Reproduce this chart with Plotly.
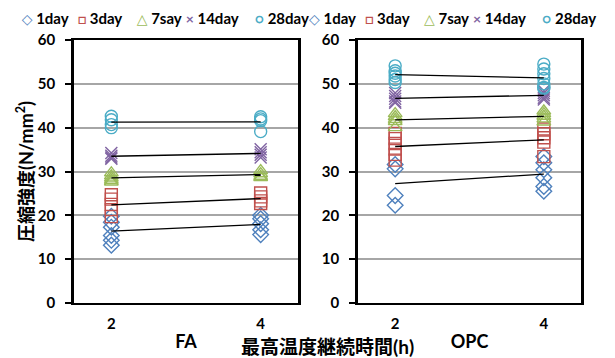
import numpy as np
import plotly.graph_objects as go

# ---------------- data ----------------
ages = ["1day", "3day", "7say", "14day", "28day"]
hours = [2, 4]

# FA: compressive strength (N/mm2) per age, at 2 h and 4 h
fa_1day_2 = [19.8, 18.4, 17.3, 15.4, 14.3, 13.2]
fa_1day_4 = [20.0, 19.2, 18.1, 16.7, 15.6]
fa_3day_2 = [24.7, 23.7, 22.5, 21.3, 19.7]
fa_3day_4 = [25.1, 24.2, 23.3, 22.7]
fa_7day_2 = [29.7, 29.0, 28.5, 28.0, 27.6]
fa_7day_4 = [30.2, 29.5, 28.9, 28.6]
fa_14day_2 = [34.2, 33.6, 33.2, 32.9]
fa_14day_4 = [35.1, 34.4, 33.8, 33.2]
fa_28day_2 = [42.6, 41.8, 40.7, 40.0]
fa_28day_4 = [42.5, 42.0, 41.6, 39.1]

# OPC
opc_1day_2 = [31.6, 30.6, 24.5, 22.3]
opc_1day_4 = [33.4, 32.0, 30.4, 28.6, 26.6, 25.5]
opc_3day_2 = [38.7, 37.5, 36.4, 35.1, 33.9, 32.6]
opc_3day_4 = [39.7, 38.6, 37.7, 36.7, 33.4]
opc_7day_2 = [43.2, 42.5, 41.9, 41.4, 40.0]
opc_7day_4 = [43.8, 43.2, 42.6, 42.0, 41.3]
opc_14day_2 = [47.9, 47.2, 46.6, 46.0, 45.7]
opc_14day_4 = [48.4, 47.9, 47.4, 46.8, 46.4]
opc_28day_2 = [54.1, 53.0, 52.4, 51.8, 51.0, 50.3]
opc_28day_4 = [54.5, 53.4, 52.3, 51.2, 50.0, 49.2, 49.0]

fa_data = [(fa_1day_2, fa_1day_4), (fa_3day_2, fa_3day_4), (fa_7day_2, fa_7day_4),
           (fa_14day_2, fa_14day_4), (fa_28day_2, fa_28day_4)]
opc_data = [(opc_1day_2, opc_1day_4), (opc_3day_2, opc_3day_4), (opc_7day_2, opc_7day_4),
            (opc_14day_2, opc_14day_4), (opc_28day_2, opc_28day_4)]

y_ticks = [0, 10, 20, 30, 40, 50, 60]

# ---------------- style ----------------
colors = ["#4F81BD", "#C0504D", "#9BBB59", "#8064A2", "#4BACC6"]
symbols = ["diamond-open", "square-open", "triangle-up-open", "x-thin-open", "circle-open"]
glyphs = ["◇", "□", "△", "×", "○"]
legend_w = [11, 14, 4, 24, 50]

FONT = "Lato, DejaVu Sans, Noto Sans CJK JP"
CJK = "Lato, Noto Sans CJK JP"

W, H, T = 615, 358, 30


def py(pix):
    return (H - pix) / (H - T)


fig = go.Figure()

for panel, data, xa, ya, lg in [("FA", fa_data, "x", "y", "legend"),
                                ("OPC", opc_data, "x2", "y2", "legend2")]:
    for i, (v2, v4) in enumerate(data):
        xs = [hours[0]] * len(v2) + [hours[1]] * len(v4)
        ys = list(v2) + list(v4)
        fig.add_trace(go.Scatter(
            x=xs, y=ys, mode="markers", xaxis=xa, yaxis=ya, showlegend=False,
            name=ages[i],
            marker=dict(symbol=symbols[i], size=12, color=colors[i],
                        line=dict(color=colors[i], width=1.4)),
        ))
    for i, (v2, v4) in enumerate(data):
        fig.add_trace(go.Scatter(
            x=hours, y=[np.mean(v2), np.mean(v4)], mode="lines", xaxis=xa, yaxis=ya,
            showlegend=False, line=dict(color="black", width=1.3), hoverinfo="skip",
        ))
    for i in range(len(ages)):
        fig.add_trace(go.Scatter(
            x=[None], y=[None], mode="markers", xaxis=xa, yaxis=ya,
            marker=dict(color="rgba(0,0,0,0)", size=1, line=dict(width=0)),
            name=f'<span style="color:{colors[i]};font-size:14px">{glyphs[i]}</span> {ages[i]}',
            legend=lg, legendwidth=legend_w[i], showlegend=True,
        ))

dom_y = [py(303), py(40)]


def xaxis_cfg(dom, anchor, title):
    return dict(domain=dom, anchor=anchor, range=[1.5, 4.5], tickvals=hours,
                ticktext=[str(h) for h in hours],
                showgrid=False, zeroline=False, showline=True, linecolor="black", linewidth=2,
                mirror=True, ticks="", ticklabelstandoff=6,
                tickfont=dict(family=FONT, size=15, color="black", weight="bold"),
                title=dict(text=title, font=dict(family=FONT, size=18, color="black", weight="bold"),
                           standoff=4))


def yaxis_cfg(anchor, title):
    d = dict(domain=dom_y, anchor=anchor, range=[0, 60], tickvals=y_ticks,
             showgrid=True, gridcolor="#A6A6A6", gridwidth=1.5, zeroline=False,
             showline=True, linecolor="black", linewidth=2.5, mirror=True,
             ticks="outside", ticklen=6, tickwidth=1.5, tickcolor="black", ticklabelstandoff=7,
             tickfont=dict(family=FONT, size=15, color="black", weight="bold"))
    if title:
        d["title"] = dict(text=title, font=dict(family=CJK, size=18, color="black", weight="bold"),
                          standoff=0)
    return d


legend_common = dict(orientation="h", yanchor="middle", y=py(18.5), xanchor="left",
                     font=dict(family=FONT, size=15, color="black", weight="bold"),
                     bgcolor="rgba(0,0,0,0)", borderwidth=0, itemclick=False)

fig.update_layout(
    width=W, height=H,
    margin=dict(l=0, r=0, t=T, b=0, autoexpand=False),
    paper_bgcolor="white", plot_bgcolor="white",
    xaxis=xaxis_cfg([74 / W, 298 / W], "y", "FA"),
    yaxis=yaxis_cfg("x", "圧縮強度(N/mm<sup>2</sup>)"),
    xaxis2=xaxis_cfg([358 / W, 581 / W], "y2", "OPC"),
    yaxis2=yaxis_cfg("x2", None),
    legend=dict(x=(21.7 - 40) / W, **legend_common),
    legend2=dict(x=(309 - 40) / W, **legend_common),
    annotations=[dict(text="最高温度継続時間(h)", xref="paper", yref="paper",
                      x=327 / W, y=py(346), xanchor="center", yanchor="middle",
                      showarrow=False,
                      font=dict(family=CJK, size=19, color="black", weight="bold"))],
)

fig.write_html("out.html", config={"displayModeBar": False},
               post_script="document.body.style.margin='0px';")
